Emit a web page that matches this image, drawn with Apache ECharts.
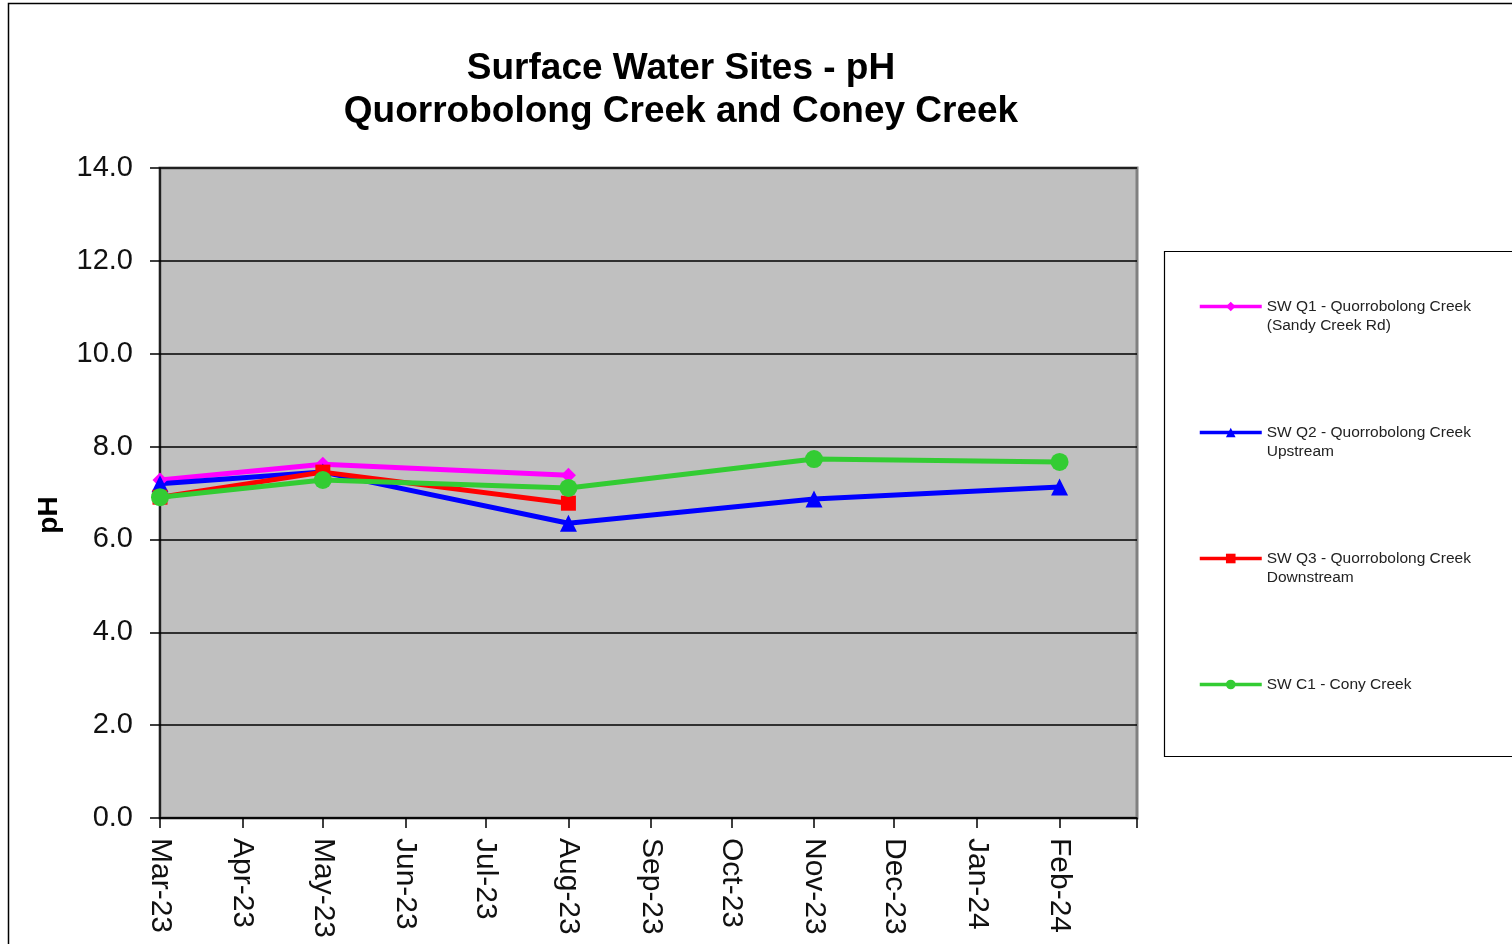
<!DOCTYPE html>
<html>
<head>
<meta charset="utf-8">
<script src="https://cdn.jsdelivr.net/npm/echarts@6/dist/echarts.min.js"></script>
<style>
html,body{margin:0;padding:0;background:#fff;}
#chart{width:1512px;height:944px;}
</style>
</head>
<body>
<div id="chart"></div>
<script>
const monthLabels = ['Jan','Feb','Mar','Apr','May','Jun','Jul','Aug','Sep','Oct','Nov','Dec'];
const axisRange = ['2023-03-01', '2024-03-01'];
const sampleDates = ['2023-03-01', '2023-05-01', '2023-08-01', '2023-11-01', '2024-02-01'];
const seriesNames = [
  'SW Q1 - Quorrobolong Creek\n(Sandy Creek Rd)',
  'SW Q2 - Quorrobolong Creek\nUpstream',
  'SW Q3 - Quorrobolong Creek\nDownstream',
  'SW C1 - Cony Creek'
];
const q1Values = [7.28, 7.62, 7.38, null, null];
const q2Values = [7.20, 7.45, 6.35, 6.87, 7.13];
const q3Values = [6.91, 7.45, 6.78, null, null];
const c1Values = [6.91, 7.28, 7.11, 7.73, 7.67];
const yTicks = { min: 0, max: 14, interval: 2 };

const chart = echarts.init(document.getElementById('chart'), null, {renderer: 'canvas'});
const FONT = "'Liberation Sans', Arial, sans-serif";
const DAY = 86400000;

function pairs(values) {
  return sampleDates.map((d, i) => [d, values[i]]);
}
function mkSeries(name, values, color, symbol, size) {
  return {
    name, type: 'line', data: pairs(values),
    symbol, symbolSize: size,
    lineStyle: {color, width: 5},
    itemStyle: {color},
    emphasis: {disabled: true},
    animation: false
  };
}
const maxTime = echarts.number.parseDate(axisRange[1]).getTime();

const option = {
  animation: false,
  backgroundColor: '#fff',
  title: {
    text: 'Surface Water Sites - pH\nQuorrobolong Creek and Coney Creek',
    left: 676, top: 42, textAlign: 'center',
    textStyle: {fontFamily: FONT, fontWeight: 'bold', fontSize: 37, lineHeight: 43, color: '#000'}
  },
  graphic: [
    {type: 'rect', z: -10, shape: {x: 8.5, y: 3.5, width: 1600, height: 1000}, style: {fill: 'none', stroke: '#000', lineWidth: 1.5}},
    {type: 'rect', z: 0, shape: {x: 1164.5, y: 251.5, width: 400, height: 505}, style: {fill: '#fff', stroke: '#000', lineWidth: 1.2}}
  ],
  legend: {
    orient: 'vertical', left: 1198, top: 278, padding: 0, itemGap: 69,
    itemWidth: 62, itemHeight: 12, z: 10,
    lineStyle: {width: 3.5},
    textStyle: {fontFamily: FONT, fontSize: 15.5, lineHeight: 19, color: '#222'},
    formatter: name => name.indexOf('\n') >= 0 ? '\n' + name : '\n' + name + '\n',
    data: seriesNames,
    selectedMode: false
  },
  grid: {
    left: 160, top: 168, right: 375, bottom: 126,
    show: true, backgroundColor: '#c0c0c0', borderColor: '#808080', borderWidth: 3
  },
  xAxis: {
    type: 'time', min: axisRange[0], max: axisRange[1],
    splitNumber: 12, minInterval: 28 * DAY, maxInterval: 31 * DAY,
    axisLine: {show: true, onZero: false, lineStyle: {color: '#000', width: 1.5}},
    axisTick: {show: true, length: 10, lineStyle: {color: '#000', width: 1.5}},
    axisLabel: {
      rotate: -90, margin: 20, fontFamily: FONT, fontSize: 30, color: '#111', fontWeight: 'normal',
      showMinLabel: true, showMaxLabel: false,
      formatter: function (value) {
        if (value >= maxTime) return '';
        const d = new Date(value);
        return monthLabels[d.getMonth()] + '-' + String(d.getFullYear()).slice(2);
      }
    },
    splitLine: {show: false}
  },
  yAxis: {
    type: 'value', min: yTicks.min, max: yTicks.max, interval: yTicks.interval,
    name: 'pH', nameLocation: 'middle', nameRotate: 90, nameGap: 97,
    nameTextStyle: {fontFamily: FONT, fontWeight: 'bold', fontSize: 28, color: '#000', padding: [0, 44, 0, 0]},
    axisLine: {show: true, lineStyle: {color: '#000', width: 1.5}},
    axisTick: {show: true, length: 10, lineStyle: {color: '#000', width: 1.5}},
    axisLabel: {margin: 27, fontFamily: FONT, fontSize: 29, color: '#111', formatter: v => v.toFixed(1)},
    splitLine: {show: true, lineStyle: {color: '#000', width: 1.5}}
  },
  series: [
    mkSeries(seriesNames[0], q1Values, '#ff00ff', 'diamond', 15),
    mkSeries(seriesNames[1], q2Values, '#0000ff', 'triangle', 17),
    mkSeries(seriesNames[2], q3Values, '#ff0000', 'rect', 15),
    mkSeries(seriesNames[3], c1Values, '#33cc33', 'circle', 18)
  ]
};
chart.setOption(option);
</script>
</body>
</html>
